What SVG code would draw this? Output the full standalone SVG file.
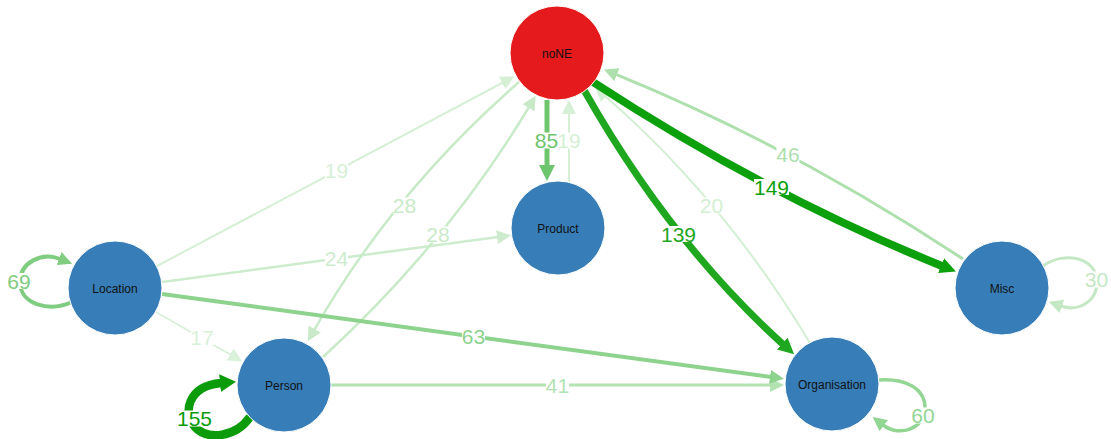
<svg xmlns="http://www.w3.org/2000/svg" width="1111" height="439" viewBox="0 0 1111 439">
<style>
.e{fill:none;stroke-linecap:butt}
.n{stroke:#ffffff;stroke-width:1}
.nt{font-family:"Liberation Sans",Arial,sans-serif;font-size:12px;fill:#111;text-anchor:middle}
.lt{font-family:"Liberation Sans",Arial,sans-serif;font-size:21px;text-anchor:middle}
.lb{fill:#ffffff}
</style>
<defs>
<marker id="a155" viewBox="0 0 16 18" refX="1" refY="9" markerWidth="16" markerHeight="18" markerUnits="userSpaceOnUse" orient="auto"><path d="M0,0 L16,9 L0,18 z" fill="#0b9b0b"/></marker>
<marker id="a149" viewBox="0 0 16 16" refX="1" refY="8" markerWidth="16" markerHeight="16" markerUnits="userSpaceOnUse" orient="auto"><path d="M0,0 L16,8 L0,16 z" fill="#0ca00c"/></marker>
<marker id="a139" viewBox="0 0 16 16" refX="1" refY="8" markerWidth="16" markerHeight="16" markerUnits="userSpaceOnUse" orient="auto"><path d="M0,0 L16,8 L0,16 z" fill="#1fa71f"/></marker>
<marker id="a85" viewBox="0 0 16 16" refX="1" refY="8" markerWidth="16" markerHeight="16" markerUnits="userSpaceOnUse" orient="auto"><path d="M0,0 L16,8 L0,16 z" fill="#6dc56d"/></marker>
<marker id="a69" viewBox="0 0 14 14" refX="1" refY="7" markerWidth="14" markerHeight="14" markerUnits="userSpaceOnUse" orient="auto"><path d="M0,0 L14,7 L0,14 z" fill="#80cc80"/></marker>
<marker id="a63" viewBox="0 0 14 14" refX="1" refY="7" markerWidth="14" markerHeight="14" markerUnits="userSpaceOnUse" orient="auto"><path d="M0,0 L14,7 L0,14 z" fill="#8dd28d"/></marker>
<marker id="a60" viewBox="0 0 14 14" refX="1" refY="7" markerWidth="14" markerHeight="14" markerUnits="userSpaceOnUse" orient="auto"><path d="M0,0 L14,7 L0,14 z" fill="#93d593"/></marker>
<marker id="a46" viewBox="0 0 14 14" refX="1" refY="7" markerWidth="14" markerHeight="14" markerUnits="userSpaceOnUse" orient="auto"><path d="M0,0 L14,7 L0,14 z" fill="#ade0ad"/></marker>
<marker id="a41" viewBox="0 0 14 14" refX="1" refY="7" markerWidth="14" markerHeight="14" markerUnits="userSpaceOnUse" orient="auto"><path d="M0,0 L14,7 L0,14 z" fill="#b3e2b3"/></marker>
<marker id="a30" viewBox="0 0 14 14" refX="1" refY="7" markerWidth="14" markerHeight="14" markerUnits="userSpaceOnUse" orient="auto"><path d="M0,0 L14,7 L0,14 z" fill="#c4e8c4"/></marker>
<marker id="a28" viewBox="0 0 14 14" refX="1" refY="7" markerWidth="14" markerHeight="14" markerUnits="userSpaceOnUse" orient="auto"><path d="M0,0 L14,7 L0,14 z" fill="#c9eac9"/></marker>
<marker id="a24" viewBox="0 0 14 14" refX="1" refY="7" markerWidth="14" markerHeight="14" markerUnits="userSpaceOnUse" orient="auto"><path d="M0,0 L14,7 L0,14 z" fill="#cdeccd"/></marker>
<marker id="a20" viewBox="0 0 14 14" refX="1" refY="7" markerWidth="14" markerHeight="14" markerUnits="userSpaceOnUse" orient="auto"><path d="M0,0 L14,7 L0,14 z" fill="#d3efd3"/></marker>
<marker id="a19" viewBox="0 0 14 14" refX="1" refY="7" markerWidth="14" markerHeight="14" markerUnits="userSpaceOnUse" orient="auto"><path d="M0,0 L14,7 L0,14 z" fill="#d6f0d6"/></marker>
<marker id="a17" viewBox="0 0 14 14" refX="1" refY="7" markerWidth="14" markerHeight="14" markerUnits="userSpaceOnUse" orient="auto"><path d="M0,0 L14,7 L0,14 z" fill="#d9f1d9"/></marker>
</defs>
<g id="connectors">
<path class="e" d="M156,312 L231,355" stroke="#d9f1d9" stroke-width="2" marker-end="url(#a17)"/>
<path class="e" d="M157,266 L503,82.5" stroke="#d6f0d6" stroke-width="2" marker-end="url(#a19)"/>
<path class="e" d="M569,183 L569,113" stroke="#d6f0d6" stroke-width="2" marker-end="url(#a19)"/>
<path class="e" d="M810,343 Q723,198.5 605,96" stroke="#d3efd3" stroke-width="2" marker-end="url(#a20)"/>
<path class="e" d="M162,282 L498,237" stroke="#cdeccd" stroke-width="2.5" marker-end="url(#a24)"/>
<path class="e" d="M519,82 Q392,193 314.2,330" stroke="#c9eac9" stroke-width="2.5" marker-end="url(#a28)"/>
<path class="e" d="M323,357 Q447,243.5 529,107" stroke="#c9eac9" stroke-width="2.5" marker-end="url(#a28)"/>
<path class="e" d="M1043,266 C1065,250 1097,258 1097,282 C1097,302 1078,312 1061,306" stroke="#c4e8c4" stroke-width="3" marker-end="url(#a30)"/>
<path class="e" d="M331,385 L771,385" stroke="#b3e2b3" stroke-width="3" marker-end="url(#a41)"/>
<path class="e" d="M963,259 Q794,147 616,74.3" stroke="#ade0ad" stroke-width="3" marker-end="url(#a46)"/>
<path class="e" d="M878,380 C905,378 925,388 925,408 C925,428 900,438 883,425" stroke="#93d593" stroke-width="3.5" marker-end="url(#a60)"/>
<path class="e" d="M162,294 L771,377" stroke="#8dd28d" stroke-width="4" marker-end="url(#a63)"/>
<path class="e" d="M72,302 C50,312 20,305 20,282 C20,262 42,252 60,259" stroke="#80cc80" stroke-width="4" marker-end="url(#a69)"/>
<path class="e" d="M547,100 L547,166" stroke="#6dc56d" stroke-width="5" marker-end="url(#a85)"/>
<path class="e" d="M584,90 Q670,242 783,344.3" stroke="#1fa71f" stroke-width="7" marker-end="url(#a139)"/>
<path class="e" d="M593,82 Q766,195 942,266" stroke="#0ca00c" stroke-width="8" marker-end="url(#a149)"/>
<path class="e" d="M250,417 C236,437 208,441 195,427 C182,413 188,386 221,383" stroke="#0b9b0b" stroke-width="8.5" marker-end="url(#a155)"/>
</g>
<g id="edge-labels">
<rect class="lb" x="191" y="329" width="23" height="16"/><text class="lt" x="202" y="344.5" fill="#d9f1d9">17</text>
<rect class="lb" x="325" y="162.5" width="23" height="16"/><text class="lt" x="336.5" y="178" fill="#d6f0d6">19</text>
<rect class="lb" x="558" y="132.5" width="23" height="16"/><text class="lt" x="569" y="148" fill="#d6f0d6">19</text>
<rect class="lb" x="700" y="197.5" width="23" height="16"/><text class="lt" x="711.5" y="213" fill="#d3efd3">20</text>
<rect class="lb" x="325" y="250" width="23" height="16"/><text class="lt" x="336.5" y="265.5" fill="#cdeccd">24</text>
<rect class="lb" x="393" y="197.5" width="23" height="16"/><text class="lt" x="404.5" y="213" fill="#c9eac9">28</text>
<rect class="lb" x="426.5" y="226.5" width="23" height="16"/><text class="lt" x="438" y="242" fill="#c9eac9">28</text>
<rect class="lb" x="1085" y="271.5" width="23" height="16"/><text class="lt" x="1096.5" y="287" fill="#c4e8c4">30</text>
<rect class="lb" x="546" y="377" width="23" height="16"/><text class="lt" x="557.5" y="392.5" fill="#b3e2b3">41</text>
<rect class="lb" x="776.5" y="146.5" width="23" height="16"/><text class="lt" x="788" y="162" fill="#ade0ad">46</text>
<rect class="lb" x="911.5" y="407.5" width="23" height="16"/><text class="lt" x="923" y="423" fill="#93d593">60</text>
<rect class="lb" x="462" y="328.5" width="23" height="16"/><text class="lt" x="473.5" y="344" fill="#8dd28d">63</text>
<rect class="lb" x="7.5" y="273" width="23" height="16"/><text class="lt" x="19" y="288.5" fill="#80cc80">69</text>
<rect class="lb" x="535" y="132.5" width="23" height="16"/><text class="lt" x="546.5" y="148" fill="#6dc56d">85</text>
<rect class="lb" x="661" y="226" width="35" height="16"/><text class="lt" x="678.5" y="241.5" fill="#1fa71f">139</text>
<rect class="lb" x="754" y="179" width="35" height="16"/><text class="lt" x="771.5" y="194.5" fill="#0ca00c">149</text>
<rect class="lb" x="177" y="410.5" width="35" height="16"/><text class="lt" x="194.5" y="426" fill="#0b9b0b">155</text>
</g>
<g id="node-noNE"><circle class="n" cx="557" cy="53" r="47" fill="#e41a1c"/><text class="nt" x="557" y="57.5">noNE</text></g>
<g id="node-Product"><circle class="n" cx="558" cy="228" r="47" fill="#377eb8"/><text class="nt" x="558" y="232.5">Product</text></g>
<g id="node-Location"><circle class="n" cx="115" cy="288" r="47" fill="#377eb8"/><text class="nt" x="115" y="292.5">Location</text></g>
<g id="node-Person"><circle class="n" cx="284" cy="385" r="47" fill="#377eb8"/><text class="nt" x="284" y="389.5">Person</text></g>
<g id="node-Organisation"><circle class="n" cx="832" cy="384" r="47" fill="#377eb8"/><text class="nt" x="832" y="388.5">Organisation</text></g>
<g id="node-Misc"><circle class="n" cx="1002" cy="288" r="47" fill="#377eb8"/><text class="nt" x="1002" y="292.5">Misc</text></g>
</svg>
